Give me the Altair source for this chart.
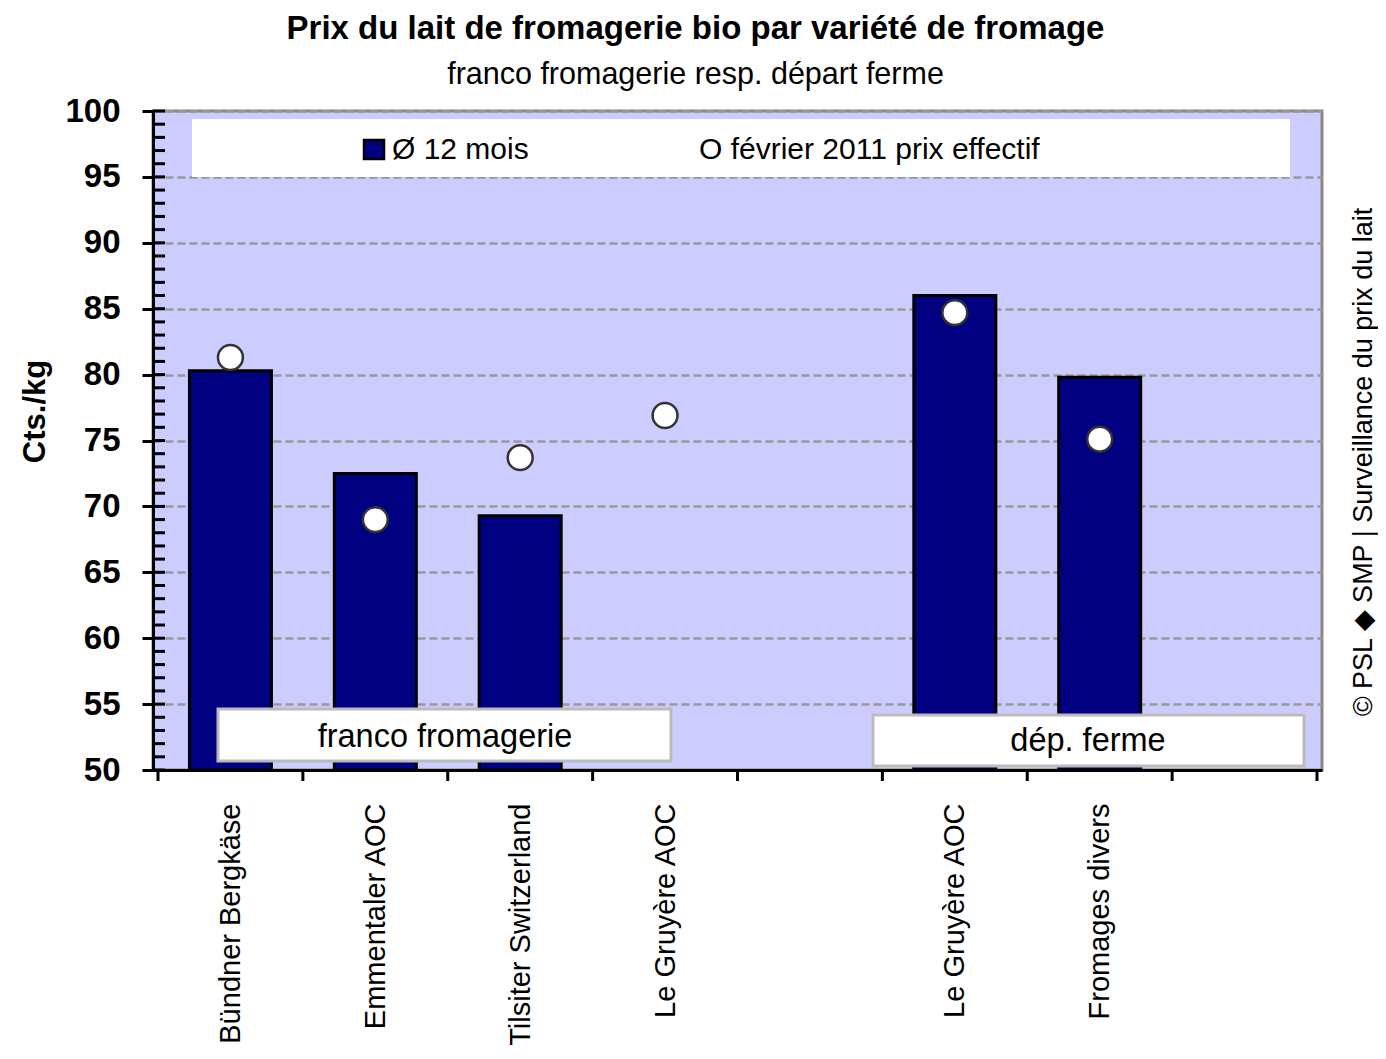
import altair as alt
import pandas as pd

# ---- data ----
categories = ["Bündner Bergkäse", "Emmentaler AOC", "Tilsiter Switzerland",
              "Le Gruyère AOC", "", "Le Gruyère AOC", "Fromages divers", ""]
avg_12_months = [80.3, 72.5, 69.3, None, None, 86.0, 79.8, None]
feb_2011 = [81.3, 69.0, 73.7, 76.9, None, 84.7, 75.1, None]
legend_labels = ["Ø 12 mois", "O février 2011 prix effectif"]
group_labels = ["franco fromagerie", "dép. ferme"]
y_major = list(range(50, 101, 5))
y_minor = list(range(50, 101, 1))
title_text = "Prix du lait de fromagerie bio par variété de fromage"
subtitle_text = "franco fromagerie resp. départ ferme"
y_title = "Cts./kg"
credit = "© PSL ◆ SMP | Surveillance du prix du lait"

FONT = "Liberation Sans, Arial, sans-serif"
NAVY = "#000080"
W, H = 1169, 659
Y_MIN = 50

n = len(categories)
df = pd.DataFrame({
    "slot": list(range(n)),
    "center": [i + 0.5 for i in range(n)],
    "cat": categories,
    "avg": avg_12_months,
    "feb": feb_2011,
})
bars_df = df.dropna(subset=["avg"])
pts_df = df.dropna(subset=["feb"])
bounds_df = pd.DataFrame({"b": list(range(n + 1))})
minor_df = pd.DataFrame({"v": y_minor})

label_array = "[" + ",".join("'" + c.replace("'", "\\'") + "'" for c in categories) + "]"

xscale = alt.Scale(domain=[0, n], nice=False, zero=False)
yscale = alt.Scale(domain=[Y_MIN, 100], nice=False, zero=False)

x_axis = alt.Axis(
    values=[i + 0.5 for i in range(n)],
    labelExpr=label_array + "[floor(datum.value)]",
    ticks=False, tickSize=0, grid=False,
    domainColor="black", domainWidth=3,
    labelAngle=-90, labelAlign="right", labelBaseline="middle",
    labelFontSize=29, labelFont=FONT, labelColor="black",
    labelPadding=33, title=None, labelOverlap=False, labelLimit=400,
)
y_axis = alt.Axis(
    values=y_major, grid=True, gridColor="#999999", gridDash=[8, 4], gridWidth=2.5,
    domainColor="black", domainWidth=3, tickColor="black", tickWidth=3, tickSize=11,
    labelFontSize=33, labelFontWeight="bold", labelFont=FONT, labelColor="black",
    labelPadding=22, title=y_title, titleFont=FONT, titleFontSize=31,
    titleFontWeight="bold", titleColor="black", titleX=-118, titleY=300,
    titleBaseline="middle", titleAngle=270,
)

bars = alt.Chart(bars_df).mark_bar(size=82, color=NAVY, stroke="black", strokeWidth=3).encode(
    x=alt.X("center:Q", scale=xscale, axis=x_axis),
    y=alt.Y("avg:Q", scale=yscale, axis=y_axis),
    y2=alt.datum(Y_MIN),
)

points = alt.Chart(pts_df).mark_point(
    shape="circle", filled=True, fill="white", stroke="#333333", strokeWidth=2.5,
    size=620, opacity=1,
).encode(
    x=alt.X("center:Q", scale=xscale),
    y=alt.Y("feb:Q", scale=yscale),
)

minor_ticks = alt.Chart(minor_df).mark_rule(color="black", strokeWidth=3).encode(
    y=alt.Y("v:Q", scale=yscale),
    x=alt.value(0), x2=alt.value(12),
)

x_ticks = alt.Chart(bounds_df).mark_rule(color="black", strokeWidth=3).encode(
    x=alt.X("b:Q", scale=xscale),
    y=alt.value(H), y2=alt.value(H + 11),
)

# legend box
legend_box = alt.Chart(pd.DataFrame({"k": [0]})).mark_rect(fill="white").encode(
    x=alt.value(39), x2=alt.value(1137), y=alt.value(8), y2=alt.value(66),
)
legend_square = alt.Chart(pd.DataFrame({"k": [0]})).mark_rect(
    fill=NAVY, stroke="black", strokeWidth=2.5).encode(
    x=alt.value(211), x2=alt.value(231), y=alt.value(29), y2=alt.value(48),
)
legend_txt1 = alt.Chart(pd.DataFrame({"t": [legend_labels[0]]})).mark_text(
    align="left", baseline="middle", font=FONT, fontSize=30, color="black").encode(
    text="t:N", x=alt.value(239), y=alt.value(39),
)
legend_txt2 = alt.Chart(pd.DataFrame({"t": [legend_labels[1]]})).mark_text(
    align="left", baseline="middle", font=FONT, fontSize=30, color="black").encode(
    text="t:N", x=alt.value(546), y=alt.value(39),
)

# group boxes
g1_box = alt.Chart(pd.DataFrame({"k": [0]})).mark_rect(
    fill="white", stroke="#bbbbbb", strokeWidth=3).encode(
    x=alt.value(65), x2=alt.value(518), y=alt.value(598), y2=alt.value(650),
)
g1_txt = alt.Chart(pd.DataFrame({"t": [group_labels[0]]})).mark_text(
    align="center", baseline="middle", font=FONT, fontSize=32.5, color="black").encode(
    text="t:N", x=alt.value(292), y=alt.value(626),
)
g2_box = alt.Chart(pd.DataFrame({"k": [0]})).mark_rect(
    fill="white", stroke="#bbbbbb", strokeWidth=3).encode(
    x=alt.value(720), x2=alt.value(1151), y=alt.value(604), y2=alt.value(655),
)
g2_txt = alt.Chart(pd.DataFrame({"t": [group_labels[1]]})).mark_text(
    align="center", baseline="middle", font=FONT, fontSize=32.5, color="black").encode(
    text="t:N", x=alt.value(935), y=alt.value(630),
)

credit_txt = alt.Chart(pd.DataFrame({"t": [credit]})).mark_text(
    align="center", baseline="middle", angle=270, font=FONT, fontSize=27, color="black").encode(
    text="t:N", x=alt.value(1211), y=alt.value(351),
)

chart = alt.layer(
    bars, points, minor_ticks, x_ticks,
    legend_box, legend_square, legend_txt1, legend_txt2,
    g1_box, g1_txt, g2_box, g2_txt, credit_txt,
).properties(
    width=W, height=H,
    title=alt.TitleParams(
        text=title_text, subtitle=subtitle_text,
        font=FONT, fontSize=33, fontWeight="bold", color="black",
        subtitleFont=FONT, subtitleFontSize=30.5, subtitleColor="black",
        anchor="middle", dx=-42, offset=5, subtitlePadding=14,
    ),
    autosize=alt.AutoSizeParams(type="none"),
    padding={"left": 145, "top": 103, "right": 56, "bottom": 280},
).configure(font=FONT).configure_view(
    fill="#CCCCFF", stroke="#888888", strokeWidth=3,
)

chart.save("out.html", embed_options={"renderer": "svg", "actions": False})
